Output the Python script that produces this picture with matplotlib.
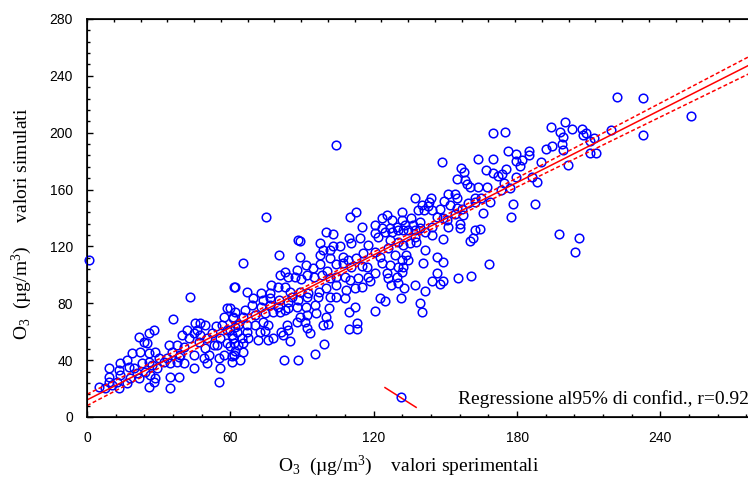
import matplotlib
matplotlib.use('Agg')
import matplotlib.pyplot as plt
import numpy as np
from matplotlib.legend_handler import HandlerBase
from matplotlib.lines import Line2D
from matplotlib.ticker import MultipleLocator
from matplotlib.font_manager import FontProperties

plt.rcParams['mathtext.fontset'] = 'custom'
plt.rcParams['mathtext.rm'] = 'Liberation Serif'
plt.rcParams['mathtext.it'] = 'Liberation Serif:italic'
plt.rcParams['mathtext.default'] = 'rm'

# ---- data: O3 measured (x) vs simulated (y), ug/m3 ----
x_exp = [
    0.7, 61.4, 43.0, 36.0, 58.6, 57.2, 61.1, 62.1, 56.5, 54.1, 58.6, 60.7, 55.8, 54.4, 58.6, 61.4,
    61.4, 57.2, 55.1, 55.8, 55.1, 60.7, 49.5, 47.4, 45.3, 44.6, 41.8, 39.7, 42.5, 46.0, 47.4, 46.7,
    50.2, 52.3, 53.0, 49.5, 50.9, 48.8, 50.2, 44.6, 40.4, 37.7, 34.2, 35.6, 39.1, 40.4, 37.7, 44.6,
    38.4, 33.5, 32.1, 34.9, 28.6, 25.8, 25.8, 30.0, 27.2, 23.0, 24.4, 26.5, 29.3, 28.6, 21.6, 23.7,
    25.8, 27.9, 25.1, 22.3, 18.8, 16.7, 13.9, 13.2, 13.9, 17.4, 19.5, 20.9, 21.6, 18.1, 16.7, 12.6,
    9.1, 9.1, 9.1, 10.5, 4.9, 7.7, 13.2, 34.9, 38.4, 25.8, 27.9, 34.9,
    # middle band
    100.0, 102.8, 115.3, 88.4, 89.1, 97.7, 102.8, 105.8, 109.7, 110.7, 114.2, 117.7,
    98.9, 101.6, 80.4, 89.1, 97.5, 101.6, 107.2, 109.3, 112.5, 115.6, 65.1, 82.8, 80.7, 84.2,
    87.7, 91.6, 94.7, 97.5, 100.5, 104.2, 107.2, 110.7, 114.9, 117.0, 87.0, 89.4, 91.9, 94.9,
    98.2, 101.6, 104.4, 107.9, 110.0, 113.5, 117.7, 118.4, 115.3, 61.9, 66.8, 73.0, 76.5, 77.2,
    80.0, 82.8, 84.9, 85.6, 89.1, 92.6, 97.2, 100.2, 104.4, 101.6, 104.2, 107.9, 108.6, 112.1,
    69.6, 73.7, 76.5, 80.4, 84.2, 88.4, 91.9, 96.8, 91.6, 95.4, 87.7, 84.2, 80.0, 76.5, 73.0,
    68.9, 66.1, 61.9, 59.8, 61.2, 65.4, 70.3, 74.4, 77.9, 80.7, 82.8, 89.1, 92.2, 95.8, 101.4,
    112.1, 109.7, 100.2, 63.3, 66.8, 70.3, 73.7, 75.8, 83.5, 87.7, 91.2, 98.9, 100.9, 91.9,
    59.8, 62.6, 66.8, 72.4, 74.4, 81.4, 84.2, 93.3, 112.8, 112.8, 109.7, 61.2, 64.7, 67.5, 71.7,
    75.8, 77.9, 82.1, 84.9, 59.8, 63.3, 65.4, 61.9, 65.1, 60.5, 64.0, 99.1, 95.4, 88.4, 82.4,
    104.4, 75.1, 110.0, 112.5,
    # upper band
    150.9, 154.0, 137.2, 143.9, 143.2, 149.5, 154.7, 162.3, 165.1, 168.6, 165.8, 140.0, 142.8,
    138.6, 141.1, 144.2, 147.7, 151.9, 154.7, 157.0, 154.0, 157.2, 159.6, 162.3, 131.9, 125.4,
    123.3, 127.5, 131.9, 135.8, 146.3, 149.1, 150.5, 139.3, 136.5, 133.1, 129.6, 126.8, 123.3,
    120.5, 124.7, 127.5, 130.3, 132.4, 134.4, 137.2, 139.3, 144.2, 141.4, 144.2, 151.2, 156.1,
    156.1, 162.3, 164.4, 161.6, 160.3, 149.1, 137.2, 137.9, 135.1, 132.4, 130.3, 126.8, 121.9,
    120.5, 126.1, 120.5, 122.6, 128.9, 133.7, 131.7, 134.4, 141.4, 140.7, 146.3, 149.1, 123.3,
    126.8, 130.3, 132.4, 120.5, 125.4, 131.7, 126.1, 129.6, 127.2, 130.3, 132.8, 137.2, 141.4,
    144.2, 146.3, 149.1, 147.7, 155.4, 160.7, 168.2, 122.6, 124.7, 131.4, 120.5, 139.3, 140.0,
    170.0, 148.4, 163.5, 170.0, 156.5, 157.9, 154.7, 158.2, 158.9, 160.3, 163.7, 167.6, 166.8,
    170.0, 172.1,
    174.8, 176.0, 179.5, 179.4, 175.3, 173.9, 174.5, 173.2, 179.4, 177.0, 178.1, 177.4,
    221.9, 232.8, 253.0, 232.8, 219.5, 200.0, 194.1, 197.9, 202.8, 207.0, 199.3, 207.7, 208.8,
    212.1, 210.5, 198.6, 199.3, 194.7, 192.0, 185.0, 185.1, 181.9, 181.2, 190.2, 201.4, 210.5,
    213.0, 186.1, 188.2, 187.4, 197.5, 206.0, 204.2,
]
y_sim = [
    110.5, 91.2, 84.7, 69.0, 76.5, 70.6, 69.4, 63.6, 64.7, 64.3, 61.2, 57.7, 55.4, 50.7, 51.8, 51.8,
    43.6, 43.6, 41.3, 34.7, 24.9, 38.9, 64.7, 66.4, 65.9, 58.9, 61.2, 57.7, 55.4, 61.2, 57.7, 53.0,
    55.8, 58.9, 50.7, 48.3, 43.6, 41.3, 37.8, 43.6, 49.5, 50.7, 50.7, 46.0, 43.6, 37.8, 38.9, 34.2,
    42.5, 41.3, 38.9, 37.8, 46.0, 44.8, 38.9, 41.3, 36.6, 37.8, 31.9, 29.6, 34.2, 27.2, 56.5, 53.0,
    58.9, 61.2, 51.8, 46.0, 44.8, 40.1, 37.8, 33.1, 29.6, 35.4, 34.2, 30.7, 27.2, 27.2, 23.7, 24.9,
    34.2, 28.4, 24.9, 22.5, 21.3, 20.6, 20.2, 28.4, 28.4, 21.3, 24.9, 20.2,
    129.9, 128.5, 133.9, 124.5, 123.8, 122.2, 120.6, 120.6, 125.7, 122.2, 126.2, 121.0,
    117.5, 117.5, 114.0, 112.8, 114.0, 111.6, 112.8, 110.5, 112.1, 115.2, 108.1, 102.3, 99.9, 98.7,
    103.4, 107.0, 105.1, 107.4, 102.7, 107.4, 108.1, 105.8, 106.5, 105.8, 98.7, 97.1, 99.9, 98.7,
    99.9, 97.6, 98.7, 98.7, 96.4, 97.6, 98.7, 95.7, 91.7, 91.7, 88.2, 87.0, 87.0, 92.9,
    91.7, 91.7, 88.2, 84.7, 88.2, 87.0, 88.2, 90.5, 92.9, 84.7, 84.7, 83.5, 89.4, 90.5,
    83.5, 82.3, 83.5, 82.3, 81.1, 82.3, 84.7, 84.7, 77.6, 78.8, 77.6, 76.5, 77.6, 78.8, 77.6,
    78.8, 75.3, 73.6, 76.9, 70.6, 70.6, 71.8, 72.9, 74.1, 73.6, 75.3, 70.6, 71.8, 72.9, 76.5,
    77.6, 73.6, 70.6, 64.7, 64.7, 64.7, 67.1, 64.7, 64.7, 67.1, 67.1, 64.7, 65.2, 62.4,
    61.2, 60.0, 60.0, 60.0, 60.5, 60.0, 61.2, 58.9, 65.9, 61.9, 61.9, 55.3, 55.3, 55.3, 54.2,
    54.2, 55.3, 57.7, 53.5, 50.2, 50.7, 51.8, 46.4, 45.5, 43.1, 40.1, 51.1, 44.1, 40.1, 40.1,
    191.4, 141.0, 141.0, 144.5,
    156.7, 156.7, 154.4, 154.4, 151.6, 152.0, 154.4, 154.4, 153.9, 151.1, 143.4, 148.8, 148.1,
    145.7, 145.7, 145.7, 146.4, 148.8, 147.3, 146.4, 142.7, 142.2, 150.4, 151.1, 144.5, 142.2,
    139.8, 138.7, 138.7, 139.8, 141.0, 139.8, 138.7, 137.5, 135.2, 135.2, 134.0, 132.8, 133.3,
    135.2, 130.5, 130.5, 131.6, 131.6, 131.6, 131.6, 132.8, 134.0, 130.5, 128.1, 134.0, 135.6,
    132.8, 131.6, 132.1, 126.2, 124.1, 125.3, 126.9, 123.4, 122.2, 121.1, 123.4, 124.6, 126.9,
    129.3, 118.7, 116.4, 112.9, 114.0, 114.0, 110.5, 110.5, 117.6, 108.2, 112.9, 109.3, 108.2,
    107.0, 105.8, 105.8, 101.1, 101.1, 101.8, 97.6, 98.8, 92.9, 94.1, 90.6, 92.9, 88.7,
    95.7, 101.1, 96.0, 93.4, 98.1, 99.5, 107.5, 83.5, 81.9, 83.5, 74.6, 80.0, 73.7,
    199.7, 179.3, 181.6, 181.6, 175.0, 172.7, 167.3, 166.8, 163.8, 162.1, 161.7, 162.1, 173.9,
    171.5, 169.2,
    200.8, 187.2, 184.9, 180.2, 174.5, 171.0, 164.9, 159.7, 169.1, 160.9, 149.9, 141.0,
    225.4, 224.3, 211.8, 198.5, 202.0, 207.4, 204.0, 200.8, 202.7, 202.7, 197.3, 198.5, 199.6,
    196.6, 194.2, 191.9, 187.9, 190.7, 188.4, 187.2, 184.4, 180.9, 176.6, 179.2, 177.3, 186.0,
    186.0, 169.1, 165.6, 149.9, 128.6, 126.2, 116.1,
]

# regression line and 95% confidence band
reg_intercept = 12.0
reg_slope = 0.85
band_center = 105.0
band_min = 2.0
band_curv = 0.033
legend_label = 'Regressione al95% di confid., r=0.92'

x_ticks = [0, 60, 120, 180, 240]
y_ticks = [0, 40, 80, 120, 160, 200, 240, 280]

blue = '#0000ff'
red = '#ff0000'
serif = ['Liberation Serif', 'DejaVu Serif']
sans = ['Liberation Sans', 'DejaVu Sans']

fig = plt.figure(figsize=(7.48, 4.79), dpi=100)
ax = fig.add_axes([87 / 748, 62 / 479, 669 / 748, 398 / 479])

ax.plot(x_exp, y_sim, ls='none', marker='o', ms=6.2, mfc='none', mec=blue,
        mew=1.1, clip_on=False, zorder=3)

xl = np.linspace(0, 280, 300)
yl = reg_intercept + reg_slope * xl
hw = np.sqrt(band_min ** 2 + (band_curv * (xl - band_center)) ** 2)
ax.plot(xl, yl, color=red, lw=1.1, zorder=4)
ax.plot(xl, yl + hw, color=red, lw=1.1, ls=(0, (2.6, 1.6)), zorder=4)
ax.plot(xl, yl - hw, color=red, lw=1.1, ls=(0, (2.6, 1.6)), zorder=4)

ax.set_xlim(0, 280)
ax.set_ylim(0, 280)
ax.set_xticks(x_ticks)
ax.set_yticks(y_ticks)
ax.xaxis.set_minor_locator(MultipleLocator(12))
ax.yaxis.set_minor_locator(MultipleLocator(8))
ax.tick_params(which='both', direction='in', top=False, right=True, width=1.0)
ax.tick_params(which='major', length=4.5, pad=10)
ax.tick_params(which='minor', length=2.5)
for lab in ax.get_xticklabels() + ax.get_yticklabels():
    lab.set_fontfamily(sans)
    lab.set_fontsize(10)
for s in ax.spines.values():
    s.set_linewidth(1.2)

ax2 = ax.twiny()
ax2.set_xlim(0, 280)
ax2.set_xticks(np.arange(0, 281, 11.2))
ax2.tick_params(direction='in', length=2.5, width=1.0, labeltop=False)

ax.set_xlabel('$\\mathrm{O_3}$  (µg/m$^\\mathrm{3}$)    valori sperimentali',
              fontfamily=serif, fontsize=14)
ax.xaxis.set_label_coords((408.5 - 87) / 669, -0.092)
ax.set_ylabel('$\\mathrm{O_3}$  (µg/m$^\\mathrm{3}$)     valori simulati',
              fontfamily=serif, fontsize=14)
ax.yaxis.set_label_coords(-0.079, 0.485)


class SlantHandler(HandlerBase):
    def create_artists(self, legend, orig_handle, xdescent, ydescent, width,
                       height, fontsize, trans):
        x0 = -xdescent
        y0 = -ydescent
        ln = Line2D([x0, x0 + width], [y0 + height * 1.2, y0 - height * 0.25],
                    color=red, lw=1.1, transform=trans)
        mk = Line2D([x0 + width / 2], [y0 + height / 2], ls='none', marker='o',
                    ms=6.2, mfc='none', mec=blue, mew=1.1, transform=trans)
        return [ln, mk]


leg = ax.legend([Line2D([], [])], [legend_label],
                handler_map={Line2D: SlantHandler()},
                loc='center left',
                bbox_to_anchor=((385 - 87) / 669, (417 - 399) / 398),
                frameon=False, borderpad=0, borderaxespad=0,
                handlelength=1.6, handletextpad=2.15,
                prop=FontProperties(family=serif, size=14))

fig.savefig('out.png', dpi=100)
